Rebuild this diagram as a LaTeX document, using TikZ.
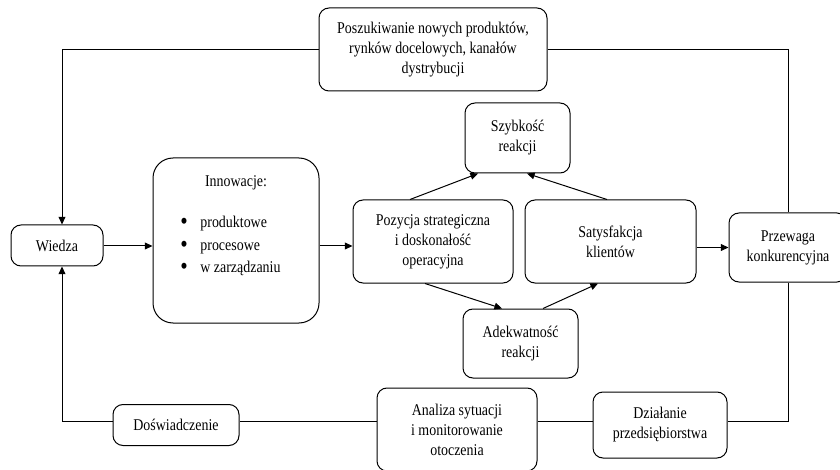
\documentclass[tikz,border=0pt]{standalone}
\usepackage{fontspec}
\setmainfont{Liberation Serif}[FakeStretch=0.85]
\usetikzlibrary{arrows.meta, positioning, calc}

\newcommand{\punkt}{\makebox[10pt][l]{\raisebox{-1pt}{\fontsize{12.5}{12.5}\selectfont\textbullet}}}

\tikzset{
  ramka/.style={draw, line width=0.5pt, rounded corners=5pt, align=center, inner sep=0pt},
  strz/.style={line width=0.5pt, -{Triangle[length=3.8pt, width=3.4pt]}},
  linia/.style={line width=0.5pt},
}

\begin{document}
\begin{tikzpicture}[x=0.5pt, y=-0.5pt, font=\fontsize{8.2}{10}\selectfont]
        \useasboundingbox (0,0) rectangle (840,470);

        % punkty pomocnicze
        \coordinate (lewo) at (62,0);
        \coordinate (srodek) at (0,246);
        \coordinate (dol) at (0,421);

        % bloki
        \node[ramka, minimum width=114pt, minimum height=41.5pt] (szuk) at (433,49.5) {Poszukiwanie nowych produktów,\\rynków docelowych, kanałów\\dystrybucji};
        \node[ramka, minimum width=46pt, minimum height=20.5pt] (wiedza) at (57,245.5) {Wiedza};
        \node[ramka, rounded corners=10pt, minimum width=83pt, minimum height=82.5pt] (innow) at (236,240.5) {};
        \node (innowt) at (236,183) {Innowacje:};
        \node[anchor=west, align=left, inner sep=0pt, font=\fontsize{8.2}{11.2}\selectfont] (innowl) at (180,246)
          {\punkt produktowe\\\punkt procesowe\\\punkt w zarządzaniu};
        \node[ramka, minimum width=80pt, minimum height=41.5pt] (poz) at (433,241.5) {Pozycja strategiczna\\i doskonałość\\operacyjna};
        \node[ramka, minimum width=52.5pt, minimum height=35pt] (szyb) at (517.5,138) {Szybkość\\reakcji};
        \node[ramka, minimum width=85.5pt, minimum height=41.5pt] (satys) at (610.5,241.5) {Satysfakcja\\klientów};
        \node[ramka, minimum width=57.5pt, minimum height=34.5pt] (adek) at (520.5,343.5) {Adekwatność\\reakcji};
        \node[ramka, minimum width=59pt, minimum height=34.5pt] (przew) at (788,247.5) {Przewaga\\konkurencyjna};
        \node[ramka, minimum width=80pt, minimum height=41.5pt] (analiza) at (457,429.5) {Analiza sytuacji\\i monitorowanie\\otoczenia};
        \node[ramka, minimum width=63pt, minimum height=20.5pt] (dosw) at (176,425) {Doświadczenie};
        \node[ramka, minimum width=67pt, minimum height=33pt] (dzial) at (660,425) {Działanie\\przedsiębiorstwa};

        % strzałki
        \draw[strz] (szuk.west) -| (wiedza.north -| lewo);
        \draw[strz] (wiedza.east |- srodek) -- (innow.west |- srodek);
        \draw[strz] (innow.east |- srodek) -- (poz.west |- srodek);
        \draw[strz] (satys.east |- przew.west) -- (przew.west);
        \draw[strz] ($(poz.north)+(-23,0)$) -- ($(szyb.south)+(-39.5,0)$);
        \draw[strz] ($(satys.north)+(-3.5,0)$) -- ($(szyb.south)+(9.5,0)$);
        \draw[strz] ($(poz.south)+(-8,0)$) -- ($(adek.north)+(-18.5,0)$);
        \draw[strz] ($(adek.north)+(22.5,0)$) -- ($(satys.south)+(-12.5,0)$);

        % pętla zwrotna
        \draw[linia] (szuk.east) -| (przew.north);
        \draw[linia] (przew.south) |- (dzial.east |- dol);
        \draw[linia] (dzial.west |- dol) -- (analiza.east |- dol);
        \draw[linia] (analiza.west |- dol) -- (dosw.east |- dol);
        \draw[strz] (dosw.west |- dol) -| (wiedza.south -| lewo);
\end{tikzpicture}
\end{document}
